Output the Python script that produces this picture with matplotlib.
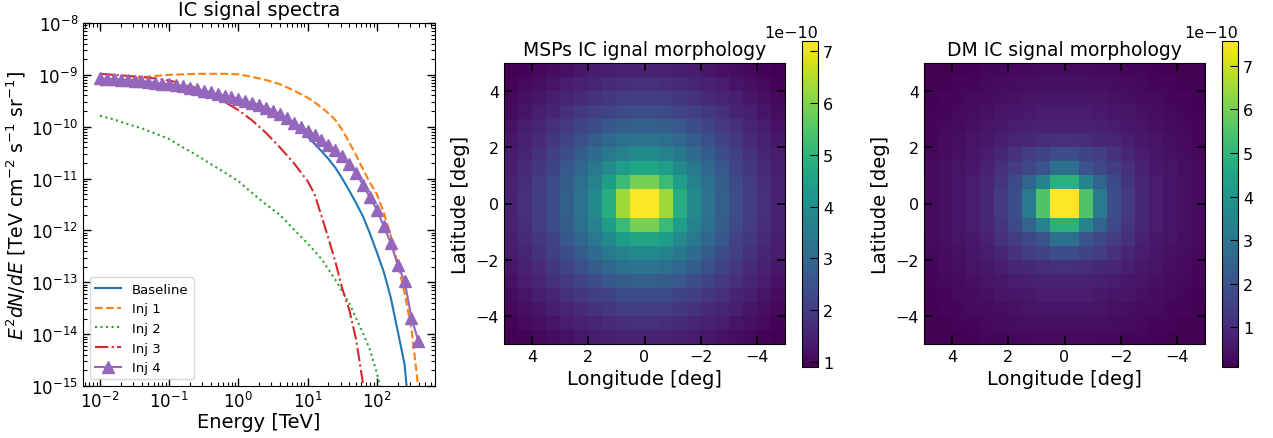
import numpy as np
import matplotlib.pyplot as plt

# ---- spectra (log10 of energy [TeV] and log10 of E^2 dN/dE) ----
logE_base = [-2.0, -1.5, -1.0, -0.5, 0.0, 0.3, 0.5, 0.6, 0.7, 0.8, 0.9, 1.0, 1.1, 1.2, 1.3, 1.4,
             1.5, 1.6, 1.7, 1.8, 1.9, 2.0, 2.1, 2.2, 2.3, 2.4, 2.5]
logF_base = [-9.08, -9.12, -9.19, -9.32, -9.47, -9.59, -9.70, -9.77, -9.86, -9.96, -10.07, -10.19,
             -10.33, -10.47, -10.62, -10.79, -11.00, -11.23, -11.47, -11.73, -12.06, -12.42, -12.80,
             -13.29, -13.93, -14.58, -16.0]

logE_inj1 = [-2.0, -1.8, -1.6, -1.4, -1.2, -1.0, -0.8, -0.6, -0.4, -0.2, 0.0, 0.2, 0.4, 0.6, 0.8,
             1.0, 1.1, 1.2, 1.3, 1.4, 1.5, 1.6, 1.7, 1.8, 1.9, 2.0, 2.1, 2.2, 2.3, 2.4, 2.5, 2.6, 2.7]
logF_inj1 = [-9.21, -9.15, -9.09, -9.05, -9.02, -9.00, -8.99, -8.98, -8.98, -8.98, -8.99, -9.04,
             -9.10, -9.18, -9.30, -9.44, -9.53, -9.63, -9.74, -9.87, -10.06, -10.30, -10.55, -10.82,
             -11.08, -11.30, -11.65, -12.10, -12.64, -13.20, -13.90, -15.05, -16.5]

logE_inj2 = [-2.0, -1.8, -1.6, -1.4, -1.2, -1.0, -0.8, -0.6, -0.4, -0.2, 0.0, 0.2, 0.4, 0.6, 0.8,
             1.0, 1.2, 1.4, 1.6, 1.8, 1.9, 2.0, 2.1]
logF_inj2 = [-9.79, -9.86, -9.95, -10.03, -10.13, -10.24, -10.40, -10.55, -10.72, -10.88, -11.05,
             -11.28, -11.50, -11.70, -11.98, -12.25, -12.55, -12.95, -13.40, -13.98, -14.30, -14.75, -15.3]

logE_inj3 = [-2.0, -1.8, -1.6, -1.4, -1.2, -1.0, -0.8, -0.6, -0.4, -0.2, 0.0, 0.2, 0.4, 0.6, 0.8,
             1.0, 1.1, 1.2, 1.3, 1.4, 1.5, 1.6, 1.7, 1.8, 1.9]
logF_inj3 = [-8.98, -9.00, -9.02, -9.04, -9.07, -9.11, -9.17, -9.26, -9.38, -9.52, -9.68, -9.88,
             -10.12, -10.40, -10.70, -11.05, -11.30, -11.72, -12.15, -12.60, -13.12, -13.52, -14.10,
             -14.95, -16.2]

logE_inj4 = [-2.0, -1.9, -1.8, -1.7, -1.6, -1.5, -1.4, -1.3, -1.2, -1.1, -1.0, -0.9, -0.8, -0.7,
             -0.6, -0.5, -0.4, -0.3, -0.2, -0.1, 0.0, 0.1, 0.2, 0.3, 0.4, 0.5, 0.6, 0.7, 0.8, 0.9,
             1.0, 1.1, 1.2, 1.3, 1.4, 1.5, 1.6, 1.7, 1.8, 1.9, 2.0, 2.1, 2.2, 2.3, 2.4, 2.5, 2.6]
logF_inj4 = [-9.07, -9.08, -9.08, -9.09, -9.10, -9.11, -9.12, -9.14, -9.15, -9.17, -9.18, -9.20,
             -9.22, -9.25, -9.28, -9.31, -9.34, -9.37, -9.40, -9.43, -9.46, -9.50, -9.54, -9.58,
             -9.63, -9.69, -9.76, -9.84, -9.92, -10.00, -10.08, -10.16, -10.25, -10.35, -10.45,
             -10.57, -10.72, -10.90, -11.12, -11.36, -11.60, -11.92, -12.24, -12.66, -12.98, -13.68,
             -14.14]

# ---- morphology maps: upper-left quadrant (units of 1e-10), rows top->centre, cols left->centre ----
msp_quad = [
    [0.90, 0.97, 1.04, 1.12, 1.20, 1.30, 1.38, 1.44, 1.48, 1.50],
    [0.97, 1.05, 1.15, 1.26, 1.38, 1.48, 1.56, 1.65, 1.70, 1.75],
    [1.04, 1.15, 1.28, 1.42, 1.54, 1.68, 1.80, 1.93, 2.00, 2.05],
    [1.12, 1.26, 1.42, 1.56, 1.75, 1.93, 2.10, 2.20, 2.35, 2.40],
    [1.20, 1.38, 1.54, 1.75, 1.97, 2.17, 2.40, 2.60, 2.75, 2.80],
    [1.30, 1.48, 1.68, 1.93, 2.17, 2.45, 2.75, 3.00, 3.20, 3.30],
    [1.38, 1.56, 1.80, 2.10, 2.40, 2.75, 3.10, 3.45, 3.70, 3.90],
    [1.44, 1.65, 1.93, 2.20, 2.60, 3.00, 3.45, 3.90, 4.40, 4.60],
    [1.48, 1.70, 2.00, 2.35, 2.75, 3.20, 3.70, 4.40, 5.20, 5.90],
    [1.50, 1.75, 2.05, 2.40, 2.80, 3.30, 3.90, 4.85, 6.30, 7.20],
]
dm_quad = [
    [0.09, 0.11, 0.14, 0.17, 0.20, 0.23, 0.26, 0.28, 0.30, 0.31],
    [0.11, 0.14, 0.18, 0.22, 0.26, 0.30, 0.33, 0.36, 0.39, 0.40],
    [0.14, 0.18, 0.23, 0.28, 0.32, 0.38, 0.42, 0.47, 0.50, 0.52],
    [0.17, 0.22, 0.28, 0.33, 0.40, 0.47, 0.54, 0.61, 0.66, 0.70],
    [0.20, 0.26, 0.32, 0.40, 0.48, 0.58, 0.70, 0.76, 0.78, 0.80],
    [0.23, 0.30, 0.38, 0.47, 0.58, 0.73, 0.90, 0.95, 1.05, 1.10],
    [0.26, 0.33, 0.42, 0.54, 0.70, 0.90, 1.17, 1.45, 1.60, 1.85],
    [0.28, 0.36, 0.47, 0.61, 0.79, 1.10, 1.45, 1.70, 2.00, 2.85],
    [0.30, 0.39, 0.50, 0.66, 0.90, 1.25, 1.75, 2.50, 3.45, 4.90],
    [0.31, 0.40, 0.52, 0.70, 0.95, 1.35, 1.90, 3.20, 5.50, 7.57],
]


def full_map(quad):
    q = np.array(quad)
    top = np.hstack([q, q[:, ::-1]])
    return np.vstack([top, top[::-1, :]]) * 1e-10


W, H = 1273, 439
fig = plt.figure(figsize=(W / 100, H / 100), dpi=100)


def box(x0, y0, x1, y1):
    return [x0 / W, 1 - y1 / H, (x1 - x0) / W, (y1 - y0) / H]


# ---- left panel: spectra ----
ax = fig.add_axes(box(83, 24, 435, 387))
ax.plot(10 ** np.array(logE_base), 10 ** np.array(logF_base), '-', color='tab:blue', lw=1.5, label='Baseline')
ax.plot(10 ** np.array(logE_inj1), 10 ** np.array(logF_inj1), '--', color='tab:orange', lw=1.5, label='Inj 1')
ax.plot(10 ** np.array(logE_inj2), 10 ** np.array(logF_inj2), ':', color='tab:green', lw=1.5, label='Inj 2')
ax.plot(10 ** np.array(logE_inj3), 10 ** np.array(logF_inj3), '-.', color='tab:red', lw=1.5, label='Inj 3')
ax.plot(10 ** np.array(logE_inj4), 10 ** np.array(logF_inj4), '-^', color='tab:purple', lw=1.5, ms=8,
        label='Inj 4')
ax.set_xscale('log')
ax.set_yscale('log')
ax.set_xlim(10 ** -2.245, 10 ** 2.84)
ax.set_ylim(1e-15, 1e-8)
ax.yaxis.set_major_locator(plt.LogLocator(base=10, numticks=20))
ax.yaxis.set_minor_locator(plt.LogLocator(base=10, subs=np.arange(2, 10), numticks=20))
ax.tick_params(which='both', direction='in', top=True, right=True, labelsize=12)
ax.tick_params(which='major', length=6, width=1)
ax.tick_params(which='minor', length=3, width=0.8)
ax.set_xlabel('Energy [TeV]', fontsize=14, labelpad=1)
ax.set_ylabel(r'$E^2dN/dE$ [TeV cm$^{-2}$ s$^{-1}$ sr$^{-1}$]', fontsize=13.5, labelpad=2)
ax.set_title('IC signal spectra', fontsize=14)
ax.legend(loc='lower left', fontsize=9.5)

# ---- maps ----
maps = [(msp_quad, 'MSPs IC ignal morphology', 504, 802), (dm_quad, 'DM IC signal morphology', 924, 1222)]
for quad, title, x0, cx in maps:
    axm = fig.add_axes(box(x0, 64, x0 + 281, 345))
    im = axm.imshow(full_map(quad), cmap='viridis', extent=[5, -5, -5, 5], aspect='auto',
                    interpolation='nearest')
    axm.set_xticks([4, 2, 0, -2, -4])
    axm.set_yticks([4, 2, 0, -2, -4])
    axm.tick_params(direction='in', top=True, right=True, length=6, width=1.2, labelsize=11.5)
    axm.set_xlabel('Longitude [deg]', fontsize=14)
    axm.set_ylabel('Latitude [deg]', fontsize=14)
    axm.set_title(title, fontsize=13.5)
    cax = fig.add_axes(box(cx, 42, cx + 16, 368))
    cb = fig.colorbar(im, cax=cax)
    cb.ax.tick_params(direction='in', length=6, labelsize=11.5)
    cb.ax.yaxis.get_offset_text().set_fontsize(11.5)

fig.savefig('out.png', dpi=100)
